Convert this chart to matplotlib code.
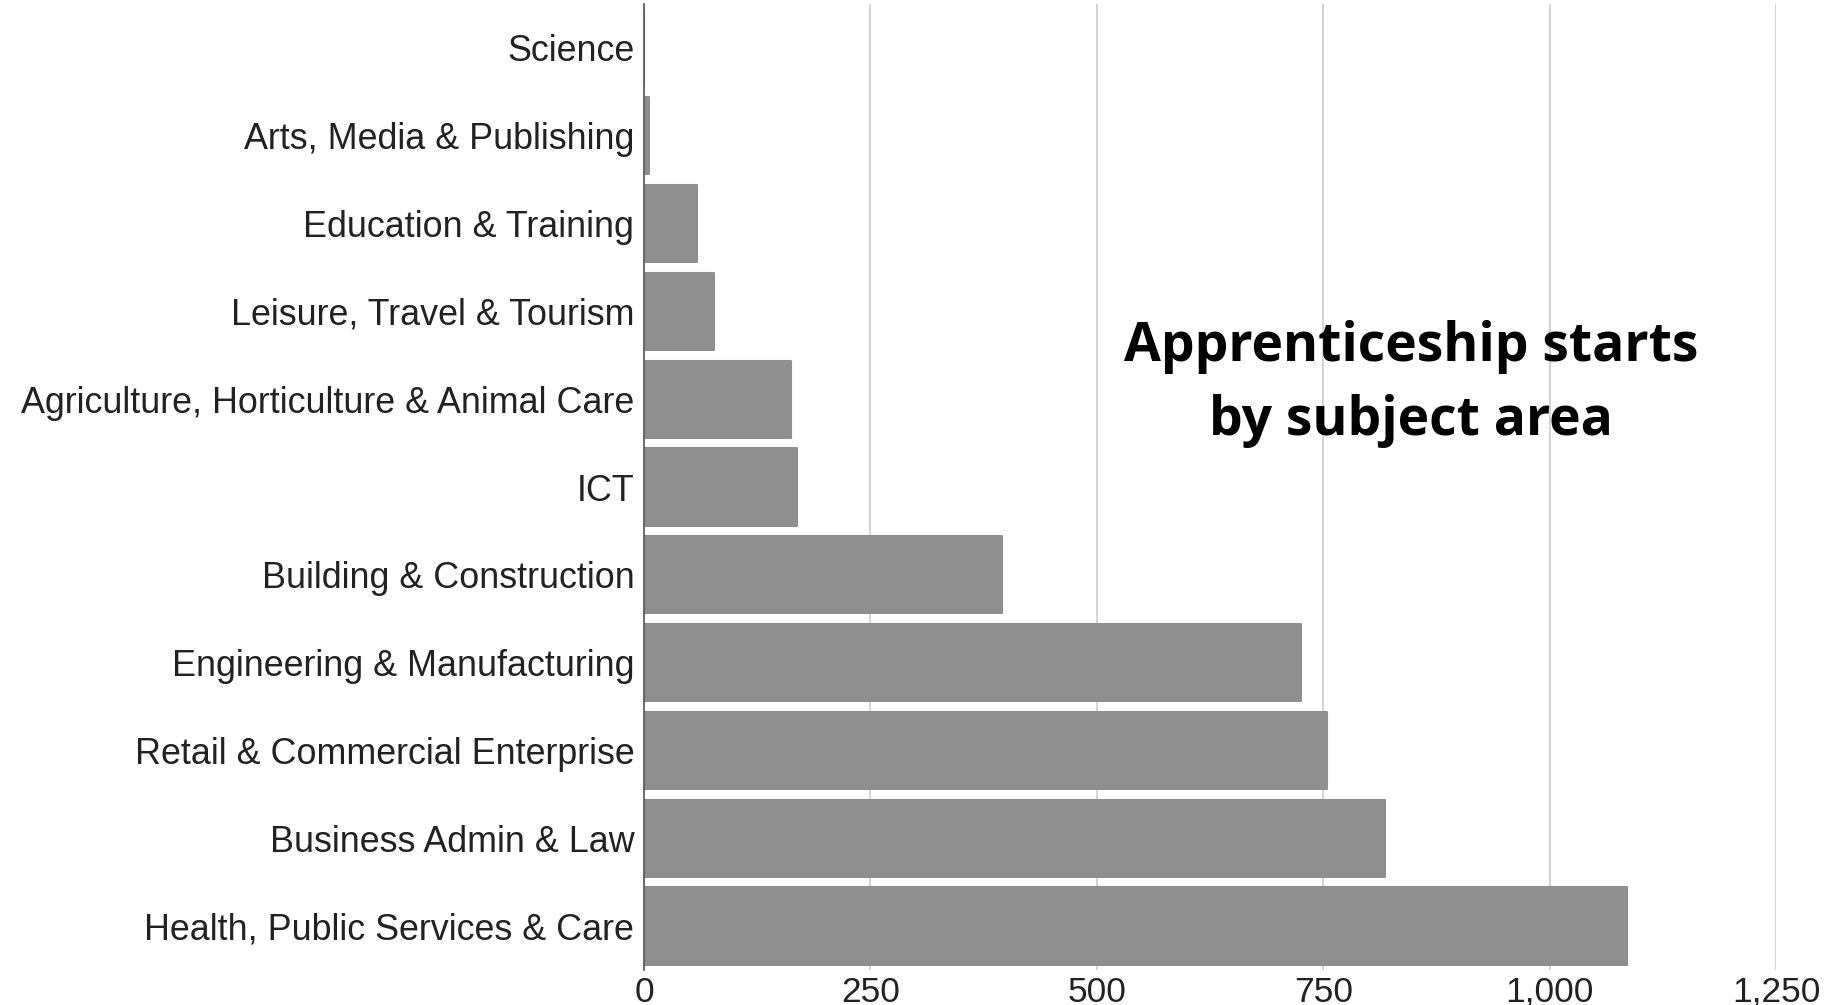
import matplotlib
matplotlib.use("Agg")
import matplotlib.pyplot as plt
from matplotlib.ticker import FuncFormatter

categories = [
    "Health, Public Services & Care",
    "Business Admin & Law",
    "Retail & Commercial Enterprise",
    "Engineering & Manufacturing",
    "Building & Construction",
    "ICT",
    "Agriculture, Horticulture & Animal Care",
    "Leisure, Travel & Tourism",
    "Education & Training",
    "Arts, Media & Publishing",
    "Science",
]
values = [1085, 818, 754, 725, 395, 169, 162, 77, 59, 6, 0]
x_ticks = [0, 250, 500, 750, 1000, 1250]
title_text = "Apprenticeship starts\nby subject area"

W, H = 1826, 1005
fig = plt.figure(figsize=(W / 100, H / 100), dpi=100)
ax = fig.add_axes([644 / W, 1 - 970 / H, (1776 - 644) / W, (970 - 4) / H])

bar_color = "#8f8f8f"
ypos = list(range(len(categories)))
ax.barh(ypos, values, height=0.88, color=bar_color, edgecolor=bar_color,
        linewidth=1.5, joinstyle="round", zorder=3)

ax.set_xlim(0, 1250)
ax.set_ylim(-0.5, len(categories) - 0.5)
ax.set_yticks(ypos)
ax.set_yticklabels(categories, fontsize=25.8, color="#222222", family="Liberation Sans")
ax.set_xticks(x_ticks)
ax.xaxis.set_major_formatter(FuncFormatter(lambda v, p: f"{int(v):,}"))
for lab in ax.get_xticklabels():
    lab.set_fontsize(25.5)
    lab.set_color("#222222")
    lab.set_family("Liberation Sans")
ax.tick_params(axis="y", length=0, pad=7)
ax.tick_params(axis="x", length=0, pad=4)

ax.grid(axis="x", color="#cccccc", linewidth=1.2, zorder=0)
for s in ["top", "right", "bottom"]:
    ax.spines[s].set_visible(False)
ax.spines["left"].set_color("#555555")
ax.spines["left"].set_linewidth(1.2)
ax.spines["left"].set_zorder(4)

fig.text(1411 / W, 1 - 384 / H, title_text, ha="center", va="center",
         fontsize=38.5, fontweight="bold", family="Open Sans", color="#000000",
         linespacing=1.48)

fig.savefig("out.png", dpi=100, facecolor="white")
